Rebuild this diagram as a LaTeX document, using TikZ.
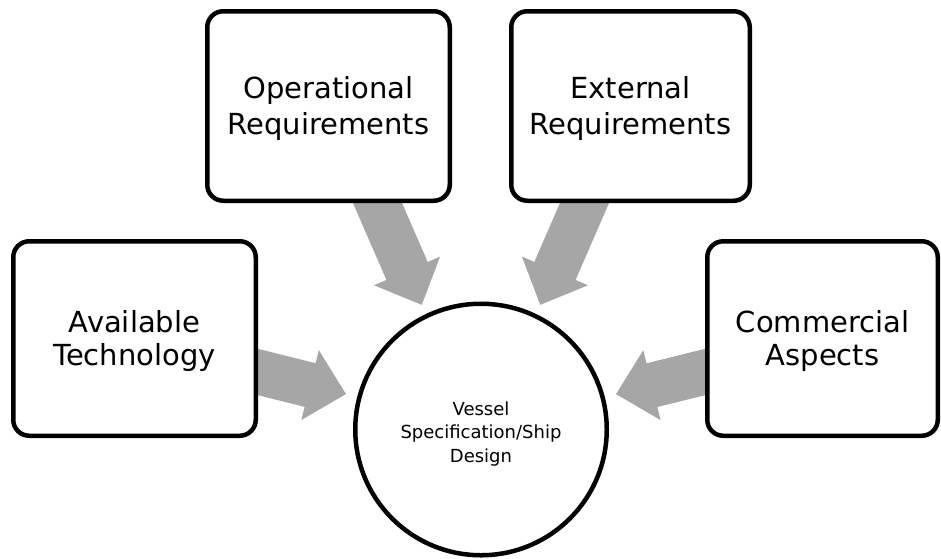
\documentclass[tikz,border=0pt]{standalone}
\usepackage{fontspec}
\setmainfont{DejaVu Sans}
\usetikzlibrary{calc,backgrounds}
\definecolor{arrowgray}{RGB}{166,166,166}
\tikzset{
  boxnode/.style={draw=black, line width=4.5pt, rounded corners=16pt, fill=white,
    align=center, inner sep=0pt},
  tallfont/.style={font=\fontsize{29}{36.5}\selectfont},
  lowfont/.style={font=\fontsize{29}{33}\selectfont},
  hubnode/.style={draw=black, line width=4.5pt, circle, fill=white, align=center,
    font=\fontsize{18}{23.5}\selectfont, inner sep=0pt, minimum size=251.5pt},
  blockarrow/.style={fill=arrowgray}
}
\newcommand{\BlockArrow}[2]{%
  \coordinate (#1-tail) at ($(#1)!-15pt!(#2)$);
  \coordinate (#1-base) at ($(#2)!37pt!(#1)$);
  \fill[blockarrow] ($(#1-tail)!22.5pt!90:(#2)$) -- ($(#1-base)!22.5pt!90:(#2)$)
    -- ($(#1-base)!36pt!90:(#2)$) -- (#2) -- ($(#1-base)!36pt!-90:(#2)$)
    -- ($(#1-base)!22.5pt!-90:(#2)$) -- ($(#1-tail)!22.5pt!-90:(#2)$) -- cycle;
}
\begin{document}
\begin{tikzpicture}[x=1pt,y=-1pt]
  \useasboundingbox (0,0) rectangle (941,558);
  % boxes
  \node[boxnode, tallfont, minimum width=242.5pt, minimum height=189.5pt] (op) at (328.5,106) {\rule{0pt}{27pt}Operational\\Requirements};
  \node[boxnode, tallfont, minimum width=238.5pt, minimum height=189.5pt] (ex) at (630.5,106) {\rule{0pt}{27pt}External\\Requirements};
  \node[boxnode, lowfont, minimum width=242.5pt, minimum height=194.5pt] (av) at (134.5,338.5) {\rule{0pt}{27pt}Available\\Technology};
  \node[boxnode, lowfont, minimum width=230.5pt, minimum height=194.5pt] (cm) at (822.5,338.5) {\rule{0pt}{27pt}Commercial\\Aspects};
  \node[hubnode] (hub) at (481,429.5) {\rule{0pt}{22.3pt}Vessel\\Specification/Ship\\Design};
  % arrow ends
  \coordinate (tO) at ([xshift=49pt]op.south);
  \coordinate (tE) at ([xshift=-46pt]ex.south);
  \coordinate (tA) at ([yshift=-33.5pt]av.east);
  \coordinate (tC) at ([yshift=-33.5pt]cm.west);
  \coordinate (pO) at ($(hub.center)+(115.4:138pt)$);
  \coordinate (pE) at ($(hub.center)+(64.6:138pt)$);
  \coordinate (pA) at ($(hub.center)+(165.3:139.6pt)$);
  \coordinate (pC) at ($(hub.center)+(14.7:139.6pt)$);
  \begin{scope}[on background layer]
    \BlockArrow{tO}{pO}
    \BlockArrow{tE}{pE}
    \BlockArrow{tA}{pA}
    \BlockArrow{tC}{pC}
  \end{scope}
\end{tikzpicture}
\end{document}
